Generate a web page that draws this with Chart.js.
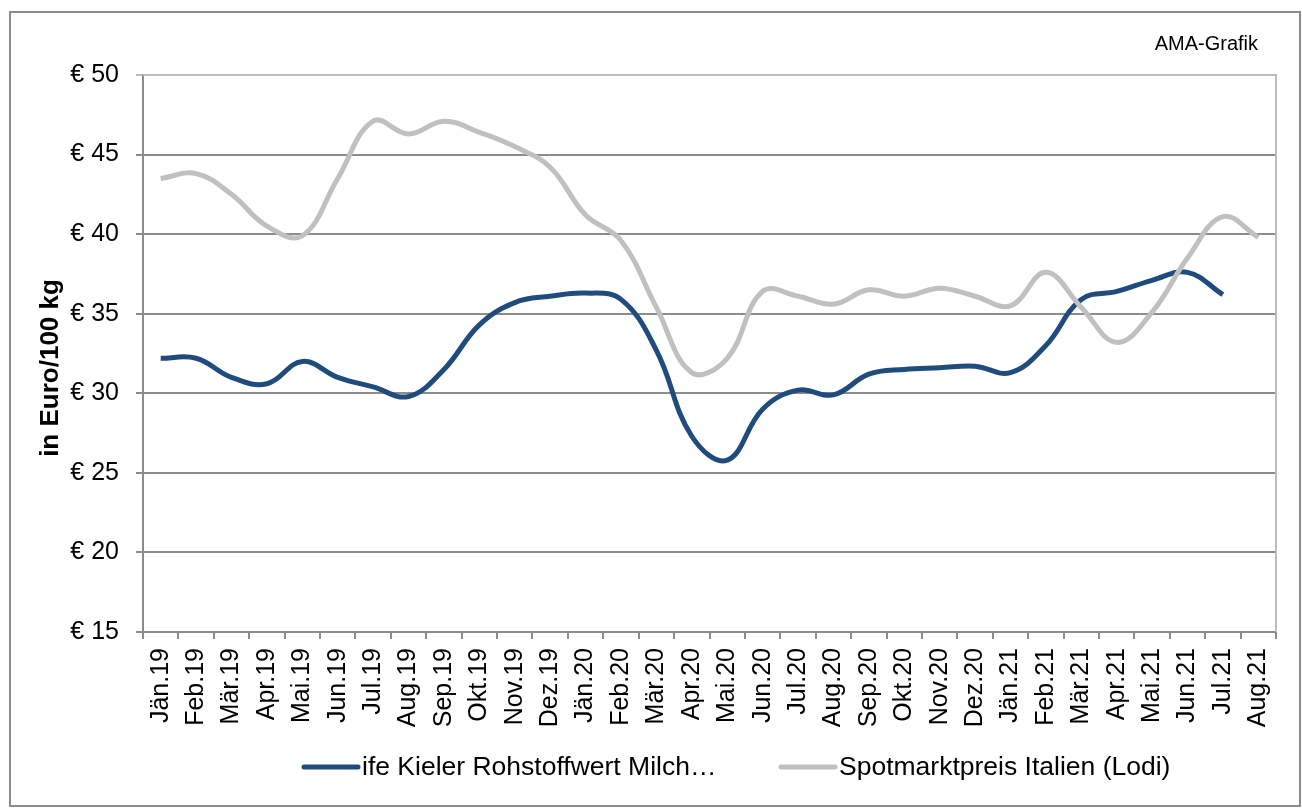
<!DOCTYPE html>
<html>
<head>
<meta charset="utf-8">
<script src="https://cdn.jsdelivr.net/npm/chart.js@4"></script>
<style>
  html, body { margin: 0; padding: 0; background: #fff; }
  #wrap { width: 1302px; height: 809px; position: relative; }
</style>
</head>
<body>
<div id="wrap"><canvas id="milk"></canvas></div>
<script>
const months = ["Jän.19", "Feb.19", "Mär.19", "Apr.19", "Mai.19", "Jun.19", "Jul.19", "Aug.19", "Sep.19", "Okt.19", "Nov.19", "Dez.19",
    "Jän.20", "Feb.20", "Mär.20", "Apr.20", "Mai.20", "Jun.20", "Jul.20", "Aug.20", "Sep.20", "Okt.20", "Nov.20", "Dez.20",
    "Jän.21", "Feb.21", "Mär.21", "Apr.21", "Mai.21", "Jun.21", "Jul.21", "Aug.21"];

const kielerName = "ife Kieler Rohstoffwert Milch…";
const kieler = [32.2, 32.2, 31.0, 30.6, 32.0, 31.0, 30.4, 29.8, 31.5, 34.3, 35.7, 36.1,
    36.3, 35.9, 32.7, 27.3, 25.8, 29.0, 30.2, 29.9, 31.2, 31.5, 31.6, 31.7,
    31.3, 33.0, 35.9, 36.4, 37.1, 37.6, 36.2, null];

const lodiName = "Spotmarktpreis Italien (Lodi)";
const lodi = [43.5, 43.8, 42.5, 40.5, 39.9, 43.5, 47.1, 46.3, 47.1, 46.4, 45.5, 44.2,
    41.2, 39.6, 35.4, 31.3, 32.2, 36.4, 36.1, 35.6, 36.5, 36.1, 36.6, 36.1,
    35.5, 37.6, 35.4, 33.2, 35.1, 38.5, 41.1, 39.8];

const yMin = 15, yMax = 50, yStep = 5;
const yTitle = "in Euro/100 kg";

const BLUE = "#1F4B7D";
const GREY = "#C0C0C0";
const FONT = "'Liberation Sans', Arial, sans-serif";

// outer frame, plot border, axis title, source note and legend
const decor = {
    id: "decor",
    beforeDraw(chart) {
        const ctx = chart.ctx;
        ctx.save();
        ctx.fillStyle = "#fff";
        ctx.fillRect(0, 0, chart.width, chart.height);
        ctx.strokeStyle = "#8c8c8c";
        ctx.lineWidth = 2;
        ctx.strokeRect(10, 12, 1290, 794);
        ctx.restore();
    },
    afterDatasetsDraw(chart) {
        const ctx = chart.ctx, a = chart.chartArea;
        ctx.save();
        ctx.strokeStyle = "#bdbdbd";
        ctx.lineWidth = 2;
        ctx.beginPath();
        ctx.moveTo(a.left, a.top);
        ctx.lineTo(a.right, a.top);
        ctx.lineTo(a.right, a.bottom);
        ctx.stroke();

        ctx.fillStyle = "#000";
        ctx.font = "20px " + FONT;
        ctx.textAlign = "right";
        ctx.textBaseline = "middle";
        ctx.fillText("AMA-Grafik", 1258, 44);

        // y axis title
        ctx.save();
        ctx.translate(51, 368);
        ctx.rotate(-Math.PI / 2);
        ctx.textAlign = "center";
        ctx.font = "bold 26px " + FONT;
        ctx.fillText(yTitle, 0, 0);
        ctx.restore();

        const items = [
            { x: 304, ds: chart.data.datasets[0] },
            { x: 781, ds: chart.data.datasets[1] }
        ];
        ctx.font = "26.5px " + FONT;
        ctx.textAlign = "left";
        items.forEach(it => {
            ctx.strokeStyle = it.ds.borderColor;
            ctx.lineWidth = 5;
            ctx.lineCap = "round";
            ctx.beginPath();
            ctx.moveTo(it.x, 767);
            ctx.lineTo(it.x + 54, 767);
            ctx.stroke();
            ctx.fillText(it.ds.label, it.x + 58, 768);
        });
        ctx.restore();
    }
};

new Chart(document.getElementById("milk"), {
    type: "line",
    data: {
        labels: months,
        datasets: [
            { label: kielerName, data: kieler, borderColor: BLUE, borderWidth: 5, tension: 0.4, pointRadius: 0, order: 2 },
            { label: lodiName, data: lodi, borderColor: GREY, borderWidth: 5, tension: 0.4, pointRadius: 0, order: 1 }
        ]
    },
    options: {
        responsive: true,
        maintainAspectRatio: false,
        animation: false,
        layout: { padding: { top: 75, right: 26, left: 30, bottom: 67 } },
        plugins: { legend: { display: false }, tooltip: { enabled: false } },
        scales: {
            x: {
                offset: true,
                grid: { offset: true, drawOnChartArea: false, drawTicks: true, tickLength: 7, color: "#8c8c8c", lineWidth: 2 },
                border: { color: "#8c8c8c", width: 2 },
                ticks: { color: "#000", font: { family: FONT, size: 25 }, minRotation: 90, maxRotation: 90, padding: 9, autoSkip: false },
                afterFit: s => { s.height = 110; }
            },
            y: {
                min: yMin, max: yMax,
                grid: { color: ctx => ctx.tick && ctx.tick.value === yMax ? "#bdbdbd" : "#8c8c8c", lineWidth: 2, tickLength: 7 },
                border: { color: "#8c8c8c", width: 2 },
                ticks: { stepSize: yStep, color: "#000", font: { family: FONT, size: 25 }, padding: 17, callback: v => "€ " + v },
                afterFit: s => { s.width = 113; }
            }
        }
    },
    plugins: [decor]
});
</script>
</body>
</html>
